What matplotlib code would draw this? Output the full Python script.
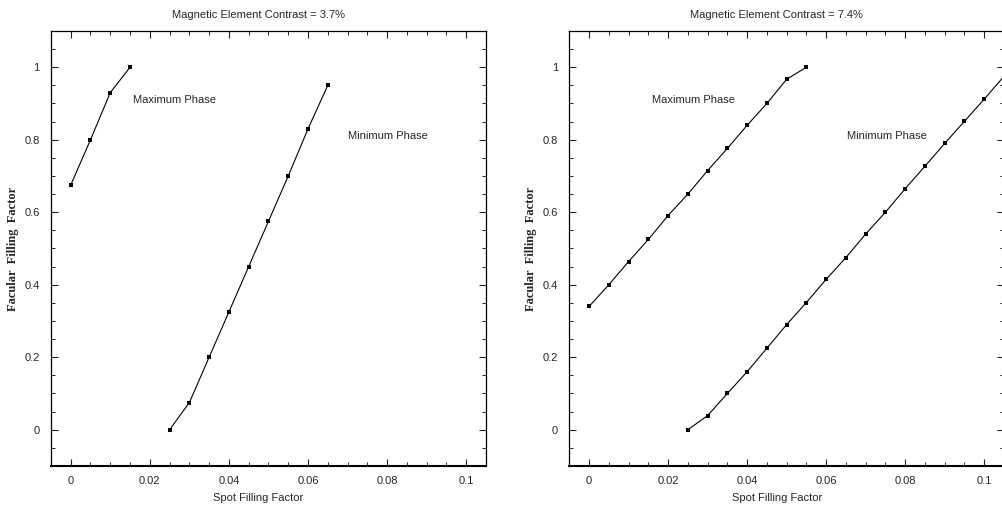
import matplotlib.pyplot as plt
from matplotlib.ticker import MultipleLocator, FuncFormatter

# -----------------------
# Data
# -----------------------
# Contrast = 3.7%
left_max_x = [0.0, 0.005, 0.010, 0.015]
left_max_y = [0.675, 0.80, 0.93, 1.00]
left_min_x = [0.025, 0.030, 0.035, 0.040, 0.045, 0.050, 0.055, 0.060, 0.065]
left_min_y = [0.0, 0.075, 0.20, 0.325, 0.45, 0.575, 0.70, 0.83, 0.95]

# Contrast = 7.4%
right_max_x = [0.0, 0.005, 0.010, 0.015, 0.020, 0.025, 0.030, 0.035,
               0.040, 0.045, 0.050, 0.055]
right_max_y = [0.34, 0.40, 0.464, 0.525, 0.591, 0.65, 0.715, 0.776,
               0.84, 0.90, 0.967, 1.00]
right_min_x = [0.025, 0.030, 0.035, 0.040, 0.045, 0.050, 0.055, 0.060,
               0.065, 0.070, 0.075, 0.080, 0.085, 0.090, 0.095, 0.100, 0.105]
right_min_y = [0.0, 0.039, 0.10, 0.16, 0.225, 0.29, 0.351, 0.415,
               0.475, 0.54, 0.60, 0.665, 0.727, 0.79, 0.851, 0.912, 0.975]

titles = ["Magnetic Element Contrast = 3.7%", "Magnetic Element Contrast = 7.4%"]
x_ticks = [0, 0.02, 0.04, 0.06, 0.08, 0.1]
y_ticks = [0, 0.2, 0.4, 0.6, 0.8, 1.0]

# -----------------------
# Style
# -----------------------
plt.rcParams["font.family"] = "Liberation Sans"
TXT = "#262626"


def fmt(v, _):
    s = f"{v:.2f}".rstrip("0").rstrip(".")
    return "0" if s in ("-0", "") else s


def setup_axes(ax, title):
    ax.set_xlim(-0.005, 0.105)
    ax.set_ylim(-0.1, 1.1)
    ax.set_xticks(x_ticks)
    ax.set_yticks(y_ticks)
    ax.xaxis.set_minor_locator(MultipleLocator(0.005))
    ax.yaxis.set_minor_locator(MultipleLocator(0.05))
    ax.xaxis.set_major_formatter(FuncFormatter(fmt))
    ax.yaxis.set_major_formatter(FuncFormatter(fmt))
    ax.tick_params(which="both", direction="in", top=True, right=True,
                   colors="#222222", labelcolor=TXT, labelsize=8)
    ax.tick_params(which="major", length=5, width=0.8)
    ax.tick_params(which="minor", length=3, width=0.7)
    ax.tick_params(axis="x", pad=7)
    ax.tick_params(axis="y", pad=8)
    for side in ["top", "right", "left"]:
        ax.spines[side].set_linewidth(0.9)
    ax.spines["bottom"].set_linewidth(1.5)
    ax.set_title(title, fontsize=8, color=TXT, x=0.477, pad=9)
    ax.set_xlabel("Spot Filling Factor", fontsize=8, color=TXT)
    ax.xaxis.set_label_coords(0.477, -0.062)
    ax.set_ylabel("Facular  Filling  Factor", fontsize=9, color=TXT,
                  family="Liberation Serif", fontweight="bold")
    ax.yaxis.set_label_coords(-0.074, 0.5)


def draw_line(ax, x, y):
    ax.plot(x, y, color="black", linewidth=0.8, marker="s", markersize=2.2,
            markerfacecolor="black", markeredgewidth=0, clip_on=True)


fig = plt.figure(figsize=(10.03, 5.09), dpi=100)
ax1 = fig.add_axes([0.0508, 0.0845, 0.4337, 0.8546])
ax2 = fig.add_axes([0.5676, 0.0845, 0.4334, 0.8546])

draw_line(ax1, left_max_x, left_max_y)
draw_line(ax1, left_min_x, left_min_y)
ax1.text(0.0158, 0.91, "Maximum Phase", fontsize=8, color=TXT, va="center")
ax1.text(0.070, 0.81, "Minimum Phase", fontsize=8, color=TXT, va="center")
setup_axes(ax1, titles[0])

draw_line(ax2, right_max_x, right_max_y)
draw_line(ax2, right_min_x, right_min_y)
ax2.text(0.0159, 0.91, "Maximum Phase", fontsize=8, color=TXT, va="center")
ax2.text(0.0652, 0.81, "Minimum Phase", fontsize=8, color=TXT, va="center")
setup_axes(ax2, titles[1])

fig.savefig("out.png", dpi=100)
